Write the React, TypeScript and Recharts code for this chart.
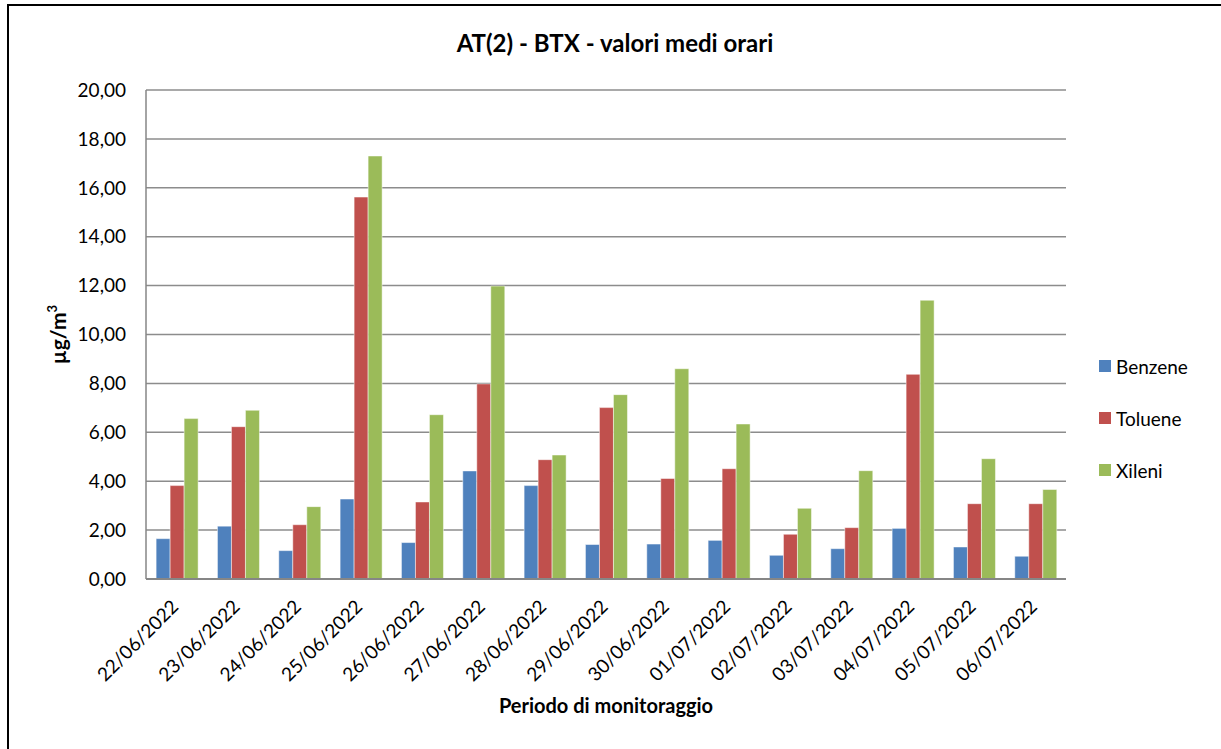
import { BarChart, Bar, XAxis, YAxis, CartesianGrid } from 'recharts';

const dates = [
  '22/06/2022', '23/06/2022', '24/06/2022', '25/06/2022', '26/06/2022',
  '27/06/2022', '28/06/2022', '29/06/2022', '30/06/2022', '01/07/2022',
  '02/07/2022', '03/07/2022', '04/07/2022', '05/07/2022', '06/07/2022',
];
const benzene = [1.65, 2.16, 1.16, 3.27, 1.49, 4.42, 3.82, 1.41, 1.43, 1.58, 0.97, 1.24, 2.07, 1.31, 0.93];
const toluene = [3.82, 6.23, 2.22, 15.62, 3.15, 7.98, 4.88, 7.01, 4.11, 4.51, 1.83, 2.10, 8.37, 3.08, 3.08];
const xileni = [6.56, 6.90, 2.96, 17.30, 6.72, 11.98, 5.07, 7.54, 8.60, 6.34, 2.89, 4.43, 11.40, 4.92, 3.66];
const yTicks = [0, 2, 4, 6, 8, 10, 12, 14, 16, 18, 20];

const series = [
  { key: 'Benzene', color: '#4F81BD' },
  { key: 'Toluene', color: '#C0504D' },
  { key: 'Xileni', color: '#9BBB59' },
];

const data = dates.map((d, i) => ({
  date: d,
  Benzene: benzene[i],
  Toluene: toluene[i],
  Xileni: xileni[i],
}));

const FONT = 'Lato, "Open Sans", sans-serif';

const fmt = (v: number) => v.toFixed(2).replace('.', ',');

function DateTick({ x, y, payload }: any) {
  return (
    <text
      x={0}
      y={0}
      transform={`translate(${x + 3}, ${y + 29}) rotate(-45)`}
      textAnchor="end"
      fontSize={19}
      fontFamily={FONT}
      fill="#000"
    >
      {payload.value}
    </text>
  );
}

function LegendBox() {
  return (
    <div style={{ position: 'absolute', left: 1099, top: 340, fontFamily: FONT, fontSize: 19, color: '#000' }}>
      {series.map((s) => (
        <div key={s.key} style={{ display: 'flex', alignItems: 'center', height: 52 }}>
          <span style={{ width: 12, height: 12, background: s.color, marginRight: 5 }} />
          <span>{s.key}</span>
        </div>
      ))}
    </div>
  );
}

export default function App() {
  return (
    <div style={{ position: 'absolute', left: 0, top: 0, width: 1221, height: 749, background: '#fff', overflow: 'hidden' }}>
      <div
        style={{
          position: 'absolute', left: 7, top: 4, width: 1240, height: 780,
          border: '2px solid #000', boxSizing: 'border-box',
        }}
      />
      <div
        style={{
          position: 'absolute', left: 0, top: 28, width: 1230, textAlign: 'center',
          fontFamily: FONT, fontWeight: 'bold', fontSize: 24, color: '#000',
        }}
      >
        AT(2) - BTX - valori medi orari
      </div>
      <div style={{ position: 'absolute', left: 0, top: 0 }}>
        <BarChart
          width={1221}
          height={749}
          data={data}
          margin={{ top: 90, right: 155, left: 0, bottom: 0 }}
          barCategoryGap="16.5%"
          barGap={0}
        >
          <CartesianGrid vertical={false} stroke="#8c8c8c" strokeWidth={1.5} />
          <XAxis
            dataKey="date"
            height={170}
            tick={<DateTick />}
            tickLine={false}
            tickSize={0}
            tickMargin={0}
            interval={0}
            stroke="#868686"
            strokeWidth={2}
            label={{
              value: 'Periodo di monitoraggio', position: 'insideBottom', offset: 36,
              fontFamily: FONT, fontWeight: 'bold', fontSize: 20, fill: '#000',
            }}
          />
          <YAxis
            width={146}
            domain={[0, 20]}
            ticks={yTicks}
            tickFormatter={fmt}
            tickLine={false}
            tickSize={0}
            tickMargin={20}
            stroke="#868686"
            strokeWidth={1.5}
            tick={{ fontFamily: FONT, fontSize: 19, fill: '#000' }}
            label={({ viewBox }: any) => {
              const cy = viewBox.y + viewBox.height / 2;
              return (
                <text
                  transform={`translate(66, ${cy}) rotate(-90)`}
                  textAnchor="middle"
                  fontFamily={FONT}
                  fontWeight="bold"
                  fontSize={21}
                  fill="#000"
                >
                  µg/m<tspan fontSize={13} dy={-9}>3</tspan>
                </text>
              );
            }}
          />
          {series.map((s) => (
            <Bar
              key={s.key}
              dataKey={s.key}
              fill={s.color}
              stroke="#ffffff"
              strokeOpacity={0.6}
              strokeWidth={0.8}
              isAnimationActive={false}
            />
          ))}
        </BarChart>
      </div>
      <LegendBox />
    </div>
  );
}
